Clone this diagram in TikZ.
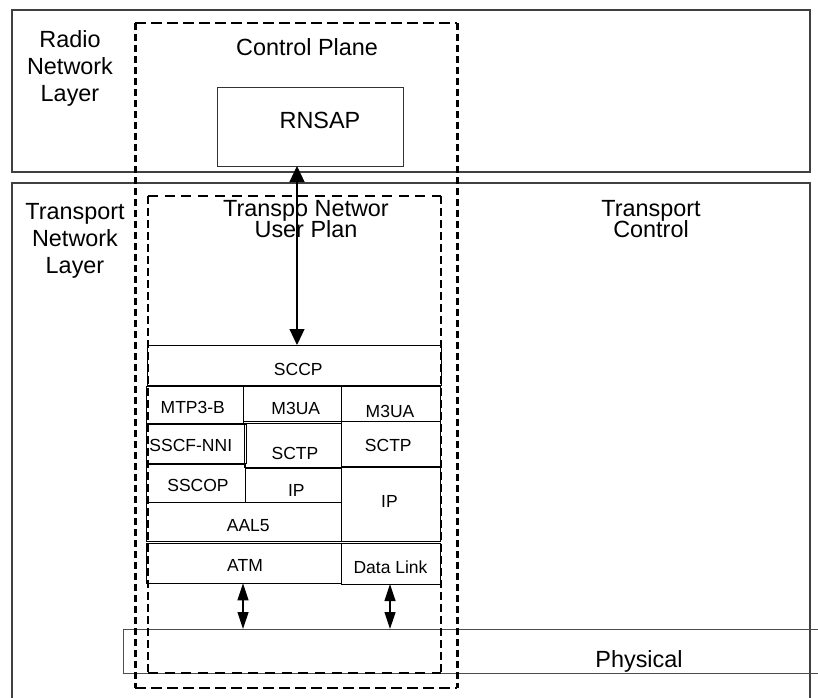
\documentclass[tikz,border=0pt]{standalone}
\usepackage{fontspec}
\setmainfont{Liberation Sans}
\usetikzlibrary{arrows.meta}
\begin{document}
\begin{tikzpicture}[x=1pt,y=-1pt,
  layerbox/.style={draw=black!75, line width=1.4pt, inner sep=0pt, outer sep=0pt, anchor=north west},
  physbox/.style={draw=black!70, line width=1pt, inner sep=0pt, outer sep=0pt, anchor=north west},
  stackbox/.style={draw=black, line width=0.9pt, inner sep=0pt, outer sep=0pt, anchor=north west},
  planebox/.style={inner sep=0pt, outer sep=0pt, anchor=north west},
  outerh/.style={draw=black, line width=2.2pt, dash pattern=on 10.7pt off 5.3pt},
  outerv/.style={draw=black, line width=3pt, dash pattern=on 6.7pt off 4.3pt},
  innerh/.style={draw=black, line width=1.8pt, dash pattern=on 10pt off 6.7pt},
  innerv/.style={draw=black, line width=2.5pt, dash pattern=on 8pt off 4pt},
  big/.style={font=\fontsize{23.4}{27}\selectfont, inner sep=0pt},
  small/.style={font=\fontsize{17.5}{20}\selectfont, inner sep=0pt, anchor=base},
  conn/.style={draw=black, line width=1.2pt},
  bighead/.style={{Triangle[width=15pt,length=16pt]}-{Triangle[width=15pt,length=16pt]}},
  smallhead/.style={{Triangle[width=11pt,length=17pt]}-{Triangle[width=11pt,length=17pt]}}
]
\useasboundingbox (0,0) rectangle (818,697);
\clip (0,0) rectangle (818,697);
\fill[white] (0,0) rectangle (818,697);

% layer boxes
\node[layerbox, minimum width=798pt, minimum height=162pt] (radio) at (12,10) {};
\node[layerbox, minimum width=798pt, minimum height=530pt] (transport) at (12,183) {};
\node[physbox, minimum width=720pt, minimum height=44pt] (phys) at (123,629) {};

% RNSAP
\node[stackbox, draw=black!80, minimum width=186pt, minimum height=79pt] (rnsap) at (217,87) {};

% protocol stack boxes
\node[stackbox, minimum width=294pt, minimum height=40pt] (sccp) at (147,345) {};
\node[stackbox, minimum width=96.6pt, minimum height=37.3pt] (mtp) at (146.7,386) {};
\node[stackbox, minimum width=98.4pt, minimum height=35.7pt] (m3uaA) at (243.3,386) {};
\node[stackbox, minimum width=98.3pt, minimum height=35pt] (m3uaB) at (341.7,386.7) {};
\node[stackbox, minimum width=100pt, minimum height=39pt] (sscf) at (146.7,424.3) {};
\node[stackbox, minimum width=97.7pt, minimum height=44pt] (sctpA) at (244,423.3) {};
\node[stackbox, minimum width=98.3pt, minimum height=45pt] (sctpB) at (341.7,421.7) {};
\node[stackbox, minimum width=99pt, minimum height=38.4pt] (sscop) at (146.7,464.3) {};
\node[stackbox, minimum width=96pt, minimum height=34.4pt] (ipA) at (245.7,468.3) {};
\node[stackbox, minimum width=98.3pt, minimum height=74.4pt] (ipB) at (341.7,467.3) {};
\node[stackbox, minimum width=195pt, minimum height=39pt] (aal) at (146.7,502.7) {};
\node[stackbox, minimum width=195pt, minimum height=40pt] (atm) at (146.7,543.3) {};
\node[stackbox, minimum width=98.3pt, minimum height=40.7pt] (dlink) at (341.7,543.3) {};

% dashed planes
\node[planebox, minimum width=322pt, minimum height=665pt] (cplane) at (135,23) {};
\node[planebox, minimum width=293pt, minimum height=477pt] (uplane) at (148,196) {};
\draw[outerh] (cplane.north west) -- (cplane.north east);
\draw[outerh] (cplane.south west) -- (cplane.south east);
\draw[outerv] (cplane.north west) -- (cplane.south west);
\draw[outerv] (cplane.north east) -- (cplane.south east);
\draw[innerh] (uplane.north west) -- (uplane.north east);
\draw[innerh] (uplane.south west) -- (uplane.south east);
\draw[innerv] (uplane.north west) -- (uplane.south west);
\draw[innerv] (uplane.north east) -- (uplane.south east);

% texts
\node[big, align=center, anchor=north] (trnl) at (70,30) {Radio\\Network\\Layer};
\node[big, anchor=base] (tcp) at (307,55) {Control Plane};
\node[big, anchor=base] (trnsap) at (320,128.3) {RNSAP};
\node[big, align=center, anchor=north] (ttnl) at (75,203.2) {Transport\\Network\\Layer};
\node[big, align=center, anchor=north] (tup) at (306,199.9) {Transpo Networ\\[-5.5pt]User Plan};
\node[big, align=center, anchor=north] (ttc) at (651,199.9) {Transport\\[-5.5pt]Control};
\node[big, anchor=base] (tphys) at (639,667.7) {Physical};

\node[small] at (298.3,375) {SCCP};
\node[small] at (192.8,413.3) {MTP3-B};
\node[small] at (295.8,414) {M3UA};
\node[small] at (390,417.3) {M3UA};
\node[small] at (190.8,451.7) {SSCF-NNI};
\node[small] at (295,459.3) {SCTP};
\node[small] at (388.3,451.7) {SCTP};
\node[small] at (198,491) {SSCOP};
\node[small] at (296.3,496.7) {IP};
\node[small] at (389.5,507.3) {IP};
\node[small] at (248.3,531.7) {AAL5};
\node[small] at (245,571.7) {ATM};
\node[small] at (390.5,573.3) {Data Link};

% connectors
\coordinate (ax) at (297,0);
\coordinate (bx) at (243,0);
\coordinate (cx) at (390,0);
\draw[conn, bighead] (rnsap.south -| ax) -- (sccp.north -| ax);
\draw[conn, smallhead] (atm.south -| bx) -- (phys.north -| bx);
\draw[conn, smallhead] (dlink.south -| cx) -- (phys.north -| cx);
\end{tikzpicture}
\end{document}
